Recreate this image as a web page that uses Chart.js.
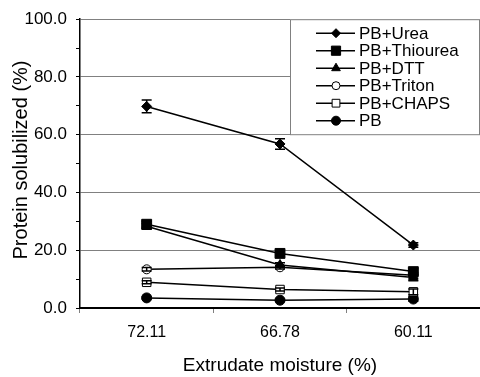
<!DOCTYPE html>
<html>
<head>
<meta charset="utf-8">
<script src="https://cdn.jsdelivr.net/npm/chart.js@4/dist/chart.umd.min.js"></script>
<style>
  html, body { margin: 0; padding: 0; background: #fff; }
  #wrap { width: 480px; height: 377px; }
</style>
</head>
<body>
<div id="wrap"><canvas id="myChart" width="480" height="377"></canvas></div>
<script>
var categories = ['72.11', '66.78', '60.11'];

var urea = [69.8, 56.8, 21.8];
var ureaErr = [2.2, 1.8, 0.8];
var thiourea = [29.0, 18.9, 12.6];
var thioureaErr = [1.0, 0.8, 1.0];
var dtt = [28.3, 14.9, 10.6];
var dttErr = [1.0, 0.8, 1.2];
var triton = [13.4, 14.1, 11.3];
var tritonErr = [0.6, 0.6, 1.0];
var chaps = [8.9, 6.4, 5.6];
var chapsErr = [0.5, 0.5, 1.0];
var pb = [3.5, 2.7, 3.1];
var pbErr = [0.4, 0.4, 0.8];

var FONT = "'Liberation Sans', Arial, sans-serif";

function series(label, data, err, style, radius, fill) {
    return {
        label: label,
        data: data,
        errors: err,
        borderColor: '#000',
        borderWidth: 1.5,
        backgroundColor: fill,
        pointStyle: style,
        pointRadius: radius,
        pointHoverRadius: radius,
        pointBackgroundColor: fill,
        pointBorderColor: '#000',
        pointBorderWidth: 1,
        tension: 0
    };
}

// error bars drawn from the y scale
var errorBars = {
    id: 'errorBars',
    afterDatasetsDraw: function (chart) {
        var ctx = chart.ctx;
        var y = chart.scales.y;
        ctx.save();
        ctx.strokeStyle = '#000';
        ctx.lineWidth = 1.5;
        chart.data.datasets.forEach(function (ds, di) {
            var meta = chart.getDatasetMeta(di);
            ds.data.forEach(function (v, i) {
                var e = ds.errors[i];
                var px = meta.data[i].x;
                var top = y.getPixelForValue(v + e);
                var bot = y.getPixelForValue(v - e);
                ctx.beginPath();
                ctx.moveTo(px, top); ctx.lineTo(px, bot);
                ctx.moveTo(px - 5, top); ctx.lineTo(px + 5, top);
                ctx.moveTo(px - 5, bot); ctx.lineTo(px + 5, bot);
                ctx.stroke();
            });
        });
        ctx.restore();
    }
};

// boxed legend in the upper right corner + y axis title
var boxLegend = {
    id: 'boxLegend',
    afterDraw: function (chart) {
        var ctx = chart.ctx;
        var a = chart.chartArea;
        var x0 = 290, y0 = a.top, w = a.right - x0, h = 116;
        ctx.save();
        ctx.fillStyle = '#fff';
        ctx.fillRect(x0, y0, w, h);
        ctx.strokeStyle = '#808080';
        ctx.lineWidth = 1;
        ctx.strokeRect(x0 + 0.5, y0 + 0.5, w - 1, h - 1);
        ctx.font = '17px ' + FONT;
        ctx.textBaseline = 'middle';
        chart.data.datasets.forEach(function (ds, i) {
            var ly = y0 + 14 + i * 17.5;
            ctx.strokeStyle = '#000';
            ctx.lineWidth = 1.5;
            ctx.beginPath();
            ctx.moveTo(316, ly); ctx.lineTo(355, ly);
            ctx.stroke();
            ctx.fillStyle = ds.pointBackgroundColor;
            ctx.lineWidth = 1;
            Chart.helpers.drawPoint(ctx, {
                pointStyle: ds.pointStyle,
                radius: ds.pointRadius - 0.5,
                borderWidth: 1,
                rotation: 0
            }, 336, ly);
            ctx.fillStyle = '#000';
            ctx.fillText(ds.label, 359, ly + 1);
        });

        ctx.translate(21, 160);
        ctx.rotate(-Math.PI / 2);
        ctx.font = '20px ' + FONT;
        ctx.textAlign = 'center';
        ctx.textBaseline = 'middle';
        ctx.fillStyle = '#000';
        ctx.fillText('Protein solubilized (%)', 0, 0);
        ctx.restore();
    }
};

var ctx = document.getElementById('myChart').getContext('2d');
var myChart = new Chart(ctx, {
    type: 'line',
    data: {
        labels: categories,
        datasets: [
            series('PB+Urea', urea, ureaErr, 'rectRot', 5, '#000'),
            series('PB+Thiourea', thiourea, thioureaErr, 'rect', 7, '#000'),
            series('PB+DTT', dtt, dttErr, 'triangle', 5.5, '#000'),
            series('PB+Triton', triton, tritonErr, 'circle', 4.5, '#fff'),
            series('PB+CHAPS', chaps, chapsErr, 'rect', 6, '#fff'),
            series('PB', pb, pbErr, 'circle', 5, '#000')
        ]
    },
    options: {
        responsive: false,
        animation: false,
        layout: { autoPadding: false, padding: { top: 17, right: 0, left: 0, bottom: 0 } },
        plugins: {
            legend: { display: false },
            tooltip: { enabled: false }
        },
        scales: {
            x: {
                offset: true,
                grid: {
                    offset: true,
                    drawOnChartArea: false,
                    tickLength: 5,
                    tickColor: '#808080'
                },
                border: { color: '#000', width: 2 },
                ticks: { color: '#000', font: { family: FONT, size: 16 }, padding: 10 },
                title: {
                    display: true,
                    text: 'Extrudate moisture (%)',
                    color: '#000',
                    font: { family: FONT, size: 19 },
                    padding: { top: 9, bottom: 0 }
                },
                afterFit: function (s) { s.height = 69; }
            },
            y: {
                min: 0,
                max: 100,
                ticks: {
                    stepSize: 10,
                    color: '#000',
                    padding: 9,
                    font: { family: FONT, size: 17 },
                    callback: function (v) { return v % 20 === 0 ? v.toFixed(1) : ''; }
                },
                grid: {
                    color: function (c) { return c.tick && c.tick.value % 20 === 0 ? '#808080' : 'rgba(0,0,0,0)'; },
                    tickColor: '#000',
                    tickLength: 4,
                    lineWidth: 1
                },
                border: { color: '#000', width: 1.5 },
                afterFit: function (s) { s.width = 80; }
            }
        }
    },
    plugins: [errorBars, boxLegend]
});
</script>
</body>
</html>
